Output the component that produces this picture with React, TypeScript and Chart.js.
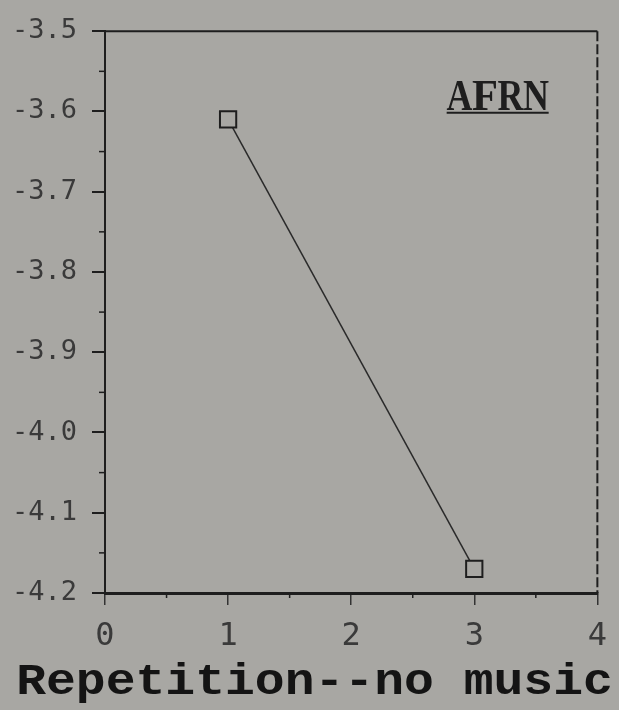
import React, { useEffect, useRef } from "react";
import { Chart, registerables } from "chart.js";

Chart.register(...registerables);

// ---- data ----
const X_VALUES = [1, 3];
const Y_VALUES = [-3.61, -4.17];
const X_TICKS = [0, 1, 2, 3, 4];
const Y_TICKS = [-4.2, -4.1, -4.0, -3.9, -3.8, -3.7, -3.6, -3.5];
const X_MINOR_TICKS = [0.5, 1.5, 2.5, 3.5];
const Y_MINOR_TICKS = [-4.15, -4.05, -3.95, -3.85, -3.75, -3.65, -3.55];
const X_TITLE = "Repetition--no music";
const PANEL_LABEL = "AFRN";
const PANEL_LABEL_POS = { x: 3.19, y: -3.598 };

const BG = "#a8a7a3";
const INK = "#1e1e1e";

// serif glyphs centred in equal-width cells (typewriter look)
function drawTypewriter(ctx: any, text: string, startX: number, baseY: number, cell: number, font: string, maxGlyph: number) {
  ctx.save();
  ctx.font = font;
  ctx.textAlign = "center";
  ctx.textBaseline = "alphabetic";
  for (let i = 0; i < text.length; i++) {
    const ch = text[i];
    if (ch === " ") continue;
    const w = ctx.measureText(ch).width;
    const s = w > maxGlyph ? maxGlyph / w : 1;
    ctx.save();
    ctx.translate(startX + cell * i + cell / 2, baseY);
    ctx.scale(s, 1);
    ctx.fillText(ch, 0, 0);
    ctx.restore();
  }
  ctx.restore();
}

const framePlugin = {
  id: "frame",
  afterDraw(chart: any) {
    const { ctx, chartArea, scales, width } = chart;
    const xs = scales.x;
    const ys = scales.y;
    ctx.save();
    ctx.strokeStyle = INK;
    // top border
    ctx.lineWidth = 2;
    ctx.beginPath();
    ctx.moveTo(chartArea.left, chartArea.top);
    ctx.lineTo(chartArea.right, chartArea.top);
    ctx.stroke();
    // right border (dashed like the scan)
    ctx.setLineDash([10, 3]);
    ctx.beginPath();
    ctx.moveTo(chartArea.right, chartArea.top);
    ctx.lineTo(chartArea.right, chartArea.bottom);
    ctx.stroke();
    ctx.setLineDash([]);
    // minor ticks
    ctx.lineWidth = 1.5;
    Y_MINOR_TICKS.forEach((v) => {
      const py = ys.getPixelForValue(v);
      ctx.beginPath();
      ctx.moveTo(chartArea.left - 6, py);
      ctx.lineTo(chartArea.left, py);
      ctx.stroke();
    });
    X_MINOR_TICKS.forEach((v) => {
      const px = xs.getPixelForValue(v);
      ctx.beginPath();
      ctx.moveTo(px, chartArea.bottom);
      ctx.lineTo(px, chartArea.bottom + 5);
      ctx.stroke();
    });
    // panel label
    ctx.fillStyle = INK;
    const lx = xs.getPixelForValue(PANEL_LABEL_POS.x);
    const ly = ys.getPixelForValue(PANEL_LABEL_POS.y);
    const lcell = 25.5;
    const lw = lcell * PANEL_LABEL.length;
    drawTypewriter(ctx, PANEL_LABEL, lx - lw / 2, ly, lcell, "bold 45px 'Liberation Serif'", 26);
    ctx.lineWidth = 2;
    ctx.beginPath();
    ctx.moveTo(lx - lw / 2, ly + 3);
    ctx.lineTo(lx + lw / 2, ly + 3);
    ctx.stroke();
    // x-axis title (wide, typewriter-like)
    ctx.fillStyle = "#141414";
    ctx.font = "bold 44px 'Liberation Mono'";
    ctx.textAlign = "center";
    ctx.textBaseline = "alphabetic";
    ctx.save();
    ctx.translate(width / 2 + 5, chartArea.bottom + 101);
    ctx.scale(1.13, 1);
    ctx.fillText(X_TITLE, 0, 0);
    ctx.restore();
    ctx.restore();
  },
};

const bgPlugin = {
  id: "bg",
  beforeDraw(chart: any) {
    const { ctx, width, height } = chart;
    ctx.save();
    ctx.fillStyle = BG;
    ctx.fillRect(0, 0, width, height);
    ctx.restore();
  },
};

export default function App() {
  const ref = useRef<HTMLCanvasElement | null>(null);

  useEffect(() => {
    document.body.style.margin = "0";
    document.body.style.background = BG;
    const canvas = ref.current;
    if (!canvas) return;
    const chart = new Chart(canvas, {
      type: "line",
      data: {
        datasets: [
          {
            data: X_VALUES.map((x, i) => ({ x, y: Y_VALUES[i] })),
            borderColor: "#2a2a2a",
            borderWidth: 1.5,
            pointStyle: "rect",
            pointRadius: 11.5,
            pointBorderWidth: 2,
            pointBorderColor: INK,
            pointBackgroundColor: BG,
            fill: false,
          },
        ],
      },
      options: {
        responsive: false,
        animation: false,
        devicePixelRatio: 1,
        layout: { padding: { left: 0, right: 15, top: 28, bottom: 0 } },
        plugins: {
          legend: { display: false },
          tooltip: { enabled: false },
          title: { display: false },
        },
        scales: {
          x: {
            type: "linear",
            min: 0,
            max: 4,
            afterBuildTicks: (s: any) => {
              s.ticks = X_TICKS.map((v) => ({ value: v }));
            },
            afterFit: (s: any) => {
              s.height = 117;
            },
            ticks: {
              color: "#3a3a3a",
              font: { family: "'DejaVu Sans Mono'", size: 32 },
              padding: 12,
              callback: (v: any) => String(v),
            },
            grid: {
              drawOnChartArea: false,
              drawTicks: true,
              tickLength: 12,
              color: "#333",
              lineWidth: 1.5,
            },
            border: { display: true, color: INK, width: 3 },
          },
          y: {
            type: "linear",
            min: -4.2,
            max: -3.5,
            afterBuildTicks: (s: any) => {
              s.ticks = Y_TICKS.map((v) => ({ value: v }));
            },
            afterFit: (s: any) => {
              s.width = 105;
            },
            ticks: {
              color: "#3a3a3a",
              font: { family: "'DejaVu Sans Mono'", size: 27 },
              padding: 15,
              callback: (v: any) => Number(v).toFixed(1),
            },
            grid: {
              drawOnChartArea: false,
              drawTicks: true,
              tickLength: 13,
              color: INK,
              lineWidth: 2,
            },
            border: { display: true, color: INK, width: 2 },
          },
        },
      },
      plugins: [bgPlugin, framePlugin],
    });
    return () => chart.destroy();
  }, []);

  return (
    <div style={{ width: 619, height: 710, background: BG }}>
      <canvas ref={ref} width={619} height={710} style={{ display: "block", width: 619, height: 710 }} />
    </div>
  );
}
